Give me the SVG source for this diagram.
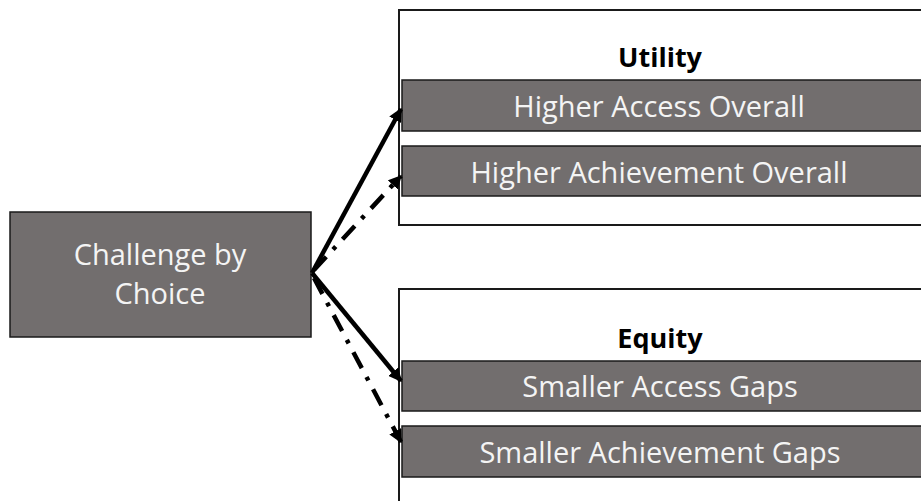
<svg xmlns="http://www.w3.org/2000/svg" width="921" height="501" viewBox="0 0 921 501">
  <defs>
    <marker id="head" viewBox="0 0 10 10" refX="9" refY="5" markerWidth="3" markerHeight="3" orient="auto" markerUnits="strokeWidth">
      <path d="M0,0 L10,5 L0,10 z" fill="#000"/>
    </marker>
  </defs>
  <style>
    .frame { fill: #fff; stroke: #1a1a1a; stroke-width: 2; }
    .bar { fill: #726e6e; stroke: #1a1a1a; stroke-width: 1.5; }
    .lbl { font-family: "Open Sans", "Liberation Sans", sans-serif; font-size: 29px; fill: #f4f4f4; text-anchor: middle; }
    .title { font-family: "Open Sans", "Liberation Sans", sans-serif; font-size: 27px; font-weight: bold; fill: #000; text-anchor: middle; }
    .solid { fill: none; stroke: #000; stroke-width: 4.5; marker-end: url(#head); }
    .dashdot { fill: none; stroke: #000; stroke-width: 4.5; stroke-dasharray: 18 10 4 10; marker-end: url(#head); }
  </style>

  <rect width="921" height="501" fill="#fff"/>

  <g id="challenge">
    <rect class="bar" x="10" y="212" width="301" height="125"/>
    <text class="lbl" x="160" y="265">Challenge by</text>
    <text class="lbl" x="160" y="304">Choice</text>
  </g>

  <g id="utility">
    <rect class="frame" x="399" y="10" width="540" height="215"/>
    <text class="title" x="660" y="67">Utility</text>
    <g id="higher-access">
      <rect class="bar" x="402" y="80" width="530" height="51"/>
      <text class="lbl" x="659" y="117">Higher Access Overall</text>
    </g>
    <g id="higher-achievement">
      <rect class="bar" x="402" y="146" width="530" height="50"/>
      <text class="lbl" x="659" y="183">Higher Achievement Overall</text>
    </g>
  </g>

  <g id="equity">
    <rect class="frame" x="399" y="289" width="540" height="230"/>
    <text class="title" x="660" y="348">Equity</text>
    <g id="smaller-access">
      <rect class="bar" x="402" y="361" width="530" height="50"/>
      <text class="lbl" x="660" y="397">Smaller Access Gaps</text>
    </g>
    <g id="smaller-achievement">
      <rect class="bar" x="402" y="426" width="530" height="51"/>
      <text class="lbl" x="660" y="463">Smaller Achievement Gaps</text>
    </g>
  </g>

  <g id="connectors">
    <line class="solid" x1="312" y1="273" x2="401" y2="109"/>
    <line class="dashdot" x1="314" y1="270" x2="401" y2="176"/>
    <line class="solid" x1="312" y1="273" x2="401" y2="381"/>
    <line class="dashdot" x1="314" y1="278" x2="401" y2="442"/>
  </g>
</svg>
